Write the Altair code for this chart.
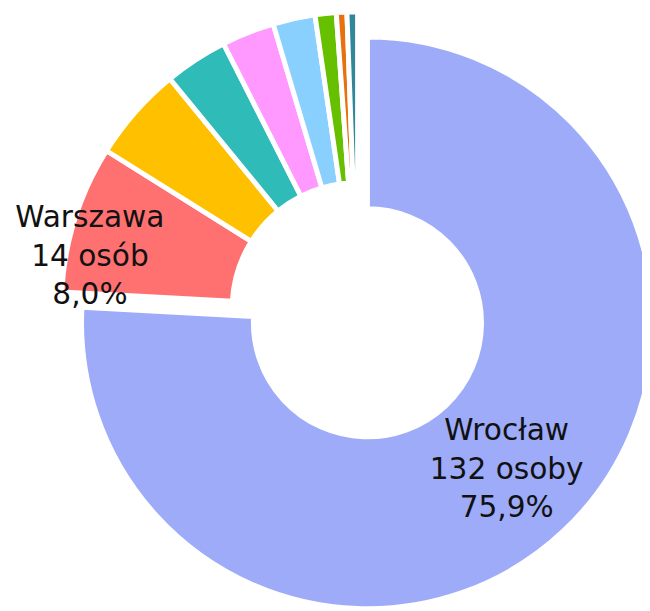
import math
import altair as alt
import pandas as pd

# ---- data ----
names = ["Wrocław", "Warszawa", "Miasto 3", "Miasto 4", "Miasto 5",
         "Miasto 6", "Miasto 7", "Miasto 8", "Miasto 9"]
counts = [132, 14, 9, 6, 5, 4, 2, 1, 1]
words = ["osoby", "osób", "osób", "osób", "osób", "osoby", "osoby", "osoba", "osoba"]
colors = ["#9DABF9", "#FF7171", "#FFC000", "#2FBBB8", "#FF99FF",
          "#8AD0FF", "#66C000", "#E8700F", "#31869B"]

total = sum(counts)
df = pd.DataFrame({"name": names, "count": counts, "word": words,
                   "order": list(range(len(names)))})

base = (
    alt.Chart(df)
    .transform_joinaggregate(total="sum(count)")
    .transform_window(cum="sum(count)", sort=[alt.SortField("order")], frame=[None, 0])
    .transform_calculate(
        start="datum.cum - datum.count",
        mid="datum.cum - datum.count / 2",
        label="datum.name + '\\n' + datum.count + ' ' + datum.word + '\\n' + "
              "replace(format(datum.count / datum.total * 100, '.1f'), '.', ',') + '%'",
    )
)

theta_scale = alt.Scale(domain=[0, total], range=[0, 2 * math.pi])
color = alt.Color("name:N", scale=alt.Scale(domain=names, range=colors), legend=None)

# centre of the ring, and of the exploded Wrocław slice
CX, CY = 354, 300
WX, WY = 364, 315

others = base.transform_filter(alt.datum.name != names[0]).mark_arc(
    outerRadius=300, innerRadius=127, stroke="white", strokeWidth=5
).encode(
    theta=alt.Theta("start:Q", scale=theta_scale, stack=False),
    theta2="cum:Q",
    color=color,
    x=alt.value(CX), y=alt.value(CY),
)

wroc = base.transform_filter(alt.datum.name == names[0]).mark_arc(
    outerRadius=289.5, innerRadius=115.5, stroke="white", strokeWidth=5
).encode(
    theta=alt.Theta("start:Q", scale=theta_scale, stack=False),
    theta2="cum:Q",
    color=color,
    x=alt.value(WX), y=alt.value(WY),
)

text_style = dict(font="DejaVu Sans", fontSize=30, lineBreak="\n", lineHeight=39,
                  align="center", baseline="middle", color="#111111", dy=-39)

wroc_text = base.transform_filter(alt.datum.name == names[0]).mark_text(
    radius=205, **text_style
).encode(
    theta=alt.Theta("mid:Q", scale=theta_scale, stack=False),
    text="label:N",
    x=alt.value(WX), y=alt.value(WY),
)

wars_text = base.transform_filter(alt.datum.name == names[1]).mark_text(
    radius=276, thetaOffset=-0.1175, **text_style
).encode(
    theta=alt.Theta("mid:Q", scale=theta_scale, stack=False),
    text="label:N",
    x=alt.value(CX), y=alt.value(CY),
)

chart = (
    alt.layer(others, wroc, wroc_text, wars_text)
    .properties(width=642, height=603, padding=0,
                autosize=alt.AutoSizeParams(type="none"))
    .configure_view(stroke=None)
)

chart.save("out.html", embed_options={"renderer": "svg", "actions": False})
